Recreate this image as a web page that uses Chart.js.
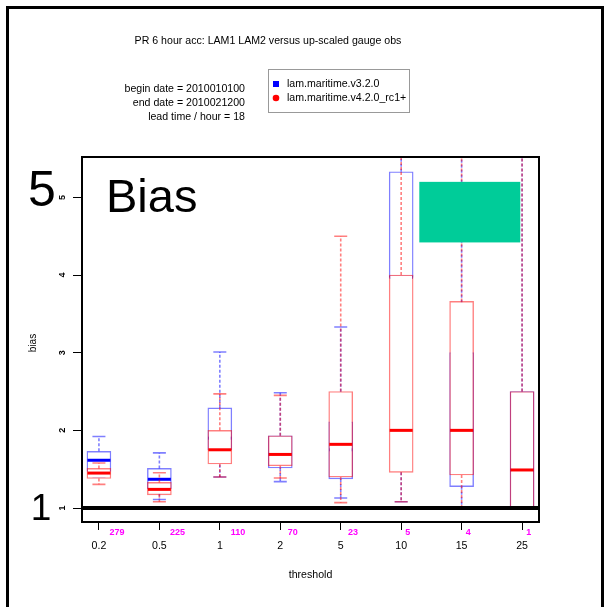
<!DOCTYPE html>
<html>
<head>
<meta charset="utf-8">
<title>PR 6 hour acc bias</title>
<script src="https://cdn.jsdelivr.net/npm/chart.js@4.4.1/dist/chart.umd.min.js"></script>
<style>
    html, body { margin: 0; padding: 0; background: #fff; }
    #biasChart { display: block; }
</style>
</head>
<body>
<canvas id="biasChart" width="606" height="607"></canvas>
<script>
(function() {
    'use strict';

    // Thresholds (mm / 6h) and number of cases per threshold
    const thresholds = ['0.2', '0.5', '1', '2', '5', '10', '15', '25'];
    const counts = [279, 225, 110, 70, 23, 5, 4, 1];
    const yTicks = [1, 2, 3, 4, 5];

    // lam.maritime.v3.2.0 box statistics
    const v3Low = [1.40, 1.11, 1.40, 1.34, 1.13, 1.08, 1.00, 1.00];
    const v3Q1 = [1.47, 1.25, 1.75, 1.515, 1.375, 3.97, 1.275, 1.00];
    const v3Median = [1.615, 1.37, 1.90, 1.69, 1.75, 3.97, 2.00, 1.49];
    const v3Q3 = [1.73, 1.51, 2.29, 1.93, 2.11, 5.33, 3.00, 2.50];
    const v3High = [1.92, 1.71, 3.01, 2.485, 3.33, 7.0, 6.8, 6.4];

    // lam.maritime.v4.2.0_rc1+ box statistics
    const v4Low = [1.305, 1.08, 1.40, 1.387, 1.07, 1.08, 1.00, 1.00];
    const v4Q1 = [1.38, 1.17, 1.567, 1.545, 1.40, 1.46, 1.425, 1.00];
    const v4Median = [1.45, 1.24, 1.75, 1.69, 1.82, 2.00, 2.00, 1.49];
    const v4Q3 = [1.51, 1.33, 2.00, 1.93, 2.50, 4.00, 3.66, 2.50];
    const v4High = [1.58, 1.455, 2.47, 2.45, 4.50, 7.2, 6.8, 6.4];

    const FONT = '"Liberation Sans", Arial, Helvetica, sans-serif';
    const colors = {
        v3Line: 'rgba(0, 0, 255, 0.5)',
        v3Median: 'rgb(0, 0, 255)',
        v4Line: 'rgba(255, 0, 0, 0.5)',
        v4Median: 'rgb(255, 0, 0)',
        count: 'rgb(255, 0, 255)',
        cover: 'rgb(0, 204, 153)'
    };

    // Solid block in the upper right of the plot, in data units
    const coverBox = { x0: 6.3, x1: 7.97, y0: 4.42, y1: 5.2 };

    const v3 = { low: v3Low, q1: v3Q1, median: v3Median, q3: v3Q3, high: v3High, line: colors.v3Line, med: colors.v3Median };
    const v4 = { low: v4Low, q1: v4Q1, median: v4Median, q3: v4Q3, high: v4High, line: colors.v4Line, med: colors.v4Median };

    // dataset index -> statistics (dataset 1 is drawn first, underneath)
    const statsByDataset = [v4, v3];

    function boxData(q1, q3) {
        return q1.map((v, i) => ({ x: i + 1, y: [v, q3[i]] }));
    }

    function text(ctx, str, x, y, font, align, color) {
        ctx.font = font + ' ' + FONT;
        ctx.textAlign = align || 'left';
        ctx.textBaseline = 'middle';
        ctx.fillStyle = color || '#000';
        ctx.fillText(str, x, y);
    }

    // Page furniture: outer frame, title, run info and legend
    const headerPlugin = {
        id: 'header',
        beforeDraw(chart) {
            const ctx = chart.ctx;
            ctx.save();
            ctx.fillStyle = '#fff';
            ctx.fillRect(0, 0, chart.width, chart.height);
            ctx.strokeStyle = '#000';
            ctx.lineWidth = 3;
            ctx.strokeRect(7.5, 7.5, 595, 640);

            text(ctx, 'PR 6 hour acc: LAM1 LAM2 versus up-scaled gauge obs', 268, 41, '10.6px', 'center');
            text(ctx, 'begin date = 2010010100', 245, 89, '10.6px', 'right');
            text(ctx, 'end date = 2010021200', 245, 103, '10.6px', 'right');
            text(ctx, 'lead time / hour = 18', 245, 117, '10.6px', 'right');

            ctx.strokeStyle = '#999';
            ctx.lineWidth = 1;
            ctx.strokeRect(268.5, 69.5, 141, 43);
            ctx.fillStyle = colors.v3Median;
            ctx.fillRect(273, 81, 6, 6);
            ctx.fillStyle = colors.v4Median;
            ctx.beginPath();
            ctx.arc(276, 98, 3.3, 0, Math.PI * 2);
            ctx.fill();
            text(ctx, 'lam.maritime.v3.2.0', 287, 84, '10.6px');
            text(ctx, 'lam.maritime.v4.2.0_rc1+', 287, 98, '10.6px');
            ctx.restore();
        }
    };

    // Median, whiskers and staples of one model, drawn right after its boxes
    const boxPlugin = {
        id: 'boxExtras',
        afterDatasetDraw(chart, args) {
            const s = statsByDataset[args.index];
            const ctx = chart.ctx;
            const area = chart.chartArea;
            const xs = chart.scales.x;
            const ys = chart.scales.y;
            const half = 11.5;
            const cap = 6.5;

            ctx.save();
            ctx.beginPath();
            ctx.rect(area.left, area.top, area.right - area.left, area.bottom - area.top);
            ctx.clip();

            s.q1.forEach((q1, i) => {
                const x = xs.getPixelForValue(i + 1);
                const yMed = ys.getPixelForValue(s.median[i]);
                ctx.strokeStyle = s.med;
                ctx.lineWidth = 3;
                ctx.beginPath();
                ctx.moveTo(x - half, yMed);
                ctx.lineTo(x + half, yMed);
                ctx.stroke();

                const yLow = ys.getPixelForValue(s.low[i]);
                const yQ1 = ys.getPixelForValue(q1);
                const yQ3 = ys.getPixelForValue(s.q3[i]);
                const yHigh = ys.getPixelForValue(s.high[i]);
                ctx.strokeStyle = s.line;
                ctx.lineWidth = 1.6;
                ctx.setLineDash([3, 2]);
                ctx.beginPath();
                ctx.moveTo(x, yQ3);
                ctx.lineTo(x, yHigh);
                ctx.moveTo(x, yQ1);
                ctx.lineTo(x, yLow);
                ctx.stroke();

                ctx.setLineDash([]);
                ctx.beginPath();
                ctx.moveTo(x - cap, yHigh);
                ctx.lineTo(x + cap, yHigh);
                ctx.moveTo(x - cap, yLow);
                ctx.lineTo(x + cap, yLow);
                ctx.stroke();
            });
            ctx.restore();
        },
        afterDatasetsDraw(chart) {
            const ctx = chart.ctx;
            const area = chart.chartArea;
            const xs = chart.scales.x;
            const ys = chart.scales.y;

            ctx.save();
            // no-bias reference line
            const yOne = ys.getPixelForValue(1);
            ctx.strokeStyle = '#000';
            ctx.lineWidth = 4;
            ctx.beginPath();
            ctx.moveTo(area.left, yOne);
            ctx.lineTo(area.right, yOne);
            ctx.stroke();

            ctx.fillStyle = colors.cover;
            const cx0 = xs.getPixelForValue(coverBox.x0);
            const cx1 = xs.getPixelForValue(coverBox.x1);
            const cy0 = ys.getPixelForValue(coverBox.y1);
            const cy1 = ys.getPixelForValue(coverBox.y0);
            ctx.fillRect(cx0, cy0, cx1 - cx0, cy1 - cy0);

            ctx.lineWidth = 2;
            ctx.strokeRect(area.left, area.top, area.right - area.left, area.bottom - area.top);

            ctx.font = '47px ' + FONT;
            ctx.textAlign = 'left';
            ctx.textBaseline = 'alphabetic';
            ctx.fillStyle = '#000';
            ctx.fillText('Bias', 106, 212);

            text(ctx, '5', 42, ys.getPixelForValue(5) - 5, '50px', 'center');
            text(ctx, '1', 41, ys.getPixelForValue(1) + 2, '37px', 'center');

            counts.forEach((n, i) => {
                const label = String(n);
                const x = xs.getPixelForValue(i + 1) + 1 + 5.7 * label.length;
                text(ctx, label, x, 533, 'bold 9px', 'center', colors.count);
            });

            text(ctx, 'threshold', (area.left + area.right) / 2, 575, '10.6px', 'center');

            ctx.translate(33, 343);
            ctx.rotate(-Math.PI / 2);
            text(ctx, 'bias', 0, 0, '10px', 'center');
            ctx.restore();
        }
    };

    const boxStyle = {
        backgroundColor: '#fff',
        borderWidth: 1.4,
        borderSkipped: false,
        barThickness: 24,
        grouped: false
    };

    const ctx = document.getElementById('biasChart');
    new Chart(ctx, {
        type: 'bar',
        data: {
            datasets: [Object.assign({
                label: 'lam.maritime.v4.2.0_rc1+',
                data: boxData(v4Q1, v4Q3),
                borderColor: colors.v4Line
            }, boxStyle), Object.assign({
                label: 'lam.maritime.v3.2.0',
                data: boxData(v3Q1, v3Q3),
                borderColor: colors.v3Line
            }, boxStyle)]
        },
        options: {
            responsive: false,
            animation: false,
            devicePixelRatio: 1,
            layout: { padding: { top: 157, right: 67, bottom: 0, left: 0 } },
            plugins: {
                legend: { display: false },
                title: { display: false },
                tooltip: { enabled: false }
            },
            scales: {
                x: {
                    type: 'linear',
                    min: 0.72,
                    max: 8.28,
                    offset: false,
                    afterBuildTicks: scale => {
                        scale.ticks = thresholds.map((_, i) => ({ value: i + 1 }));
                    },
                    afterFit: scale => { scale.height = 85; },
                    grid: { drawOnChartArea: false, offset: false, tickLength: 8, color: '#000', lineWidth: 1 },
                    border: { display: false },
                    ticks: {
                        autoSkip: false,
                        maxRotation: 0,
                        padding: 10,
                        color: '#000',
                        font: { family: FONT, size: 10.6 },
                        callback: (value, index) => thresholds[index]
                    }
                },
                y: {
                    min: 0.82,
                    max: 5.52,
                    afterBuildTicks: scale => {
                        scale.ticks = yTicks.map(v => ({ value: v }));
                    },
                    afterFit: scale => { scale.width = 82; },
                    grid: { drawOnChartArea: false, tickLength: 9, color: '#000', lineWidth: 1 },
                    border: { display: false },
                    ticks: {
                        minRotation: 90,
                        maxRotation: 90,
                        crossAlign: 'center',
                        padding: 8,
                        color: '#000',
                        font: { family: FONT, size: 9, weight: 'bold' }
                    }
                }
            }
        },
        plugins: [headerPlugin, boxPlugin]
    });
})();
</script>
</body>
</html>
